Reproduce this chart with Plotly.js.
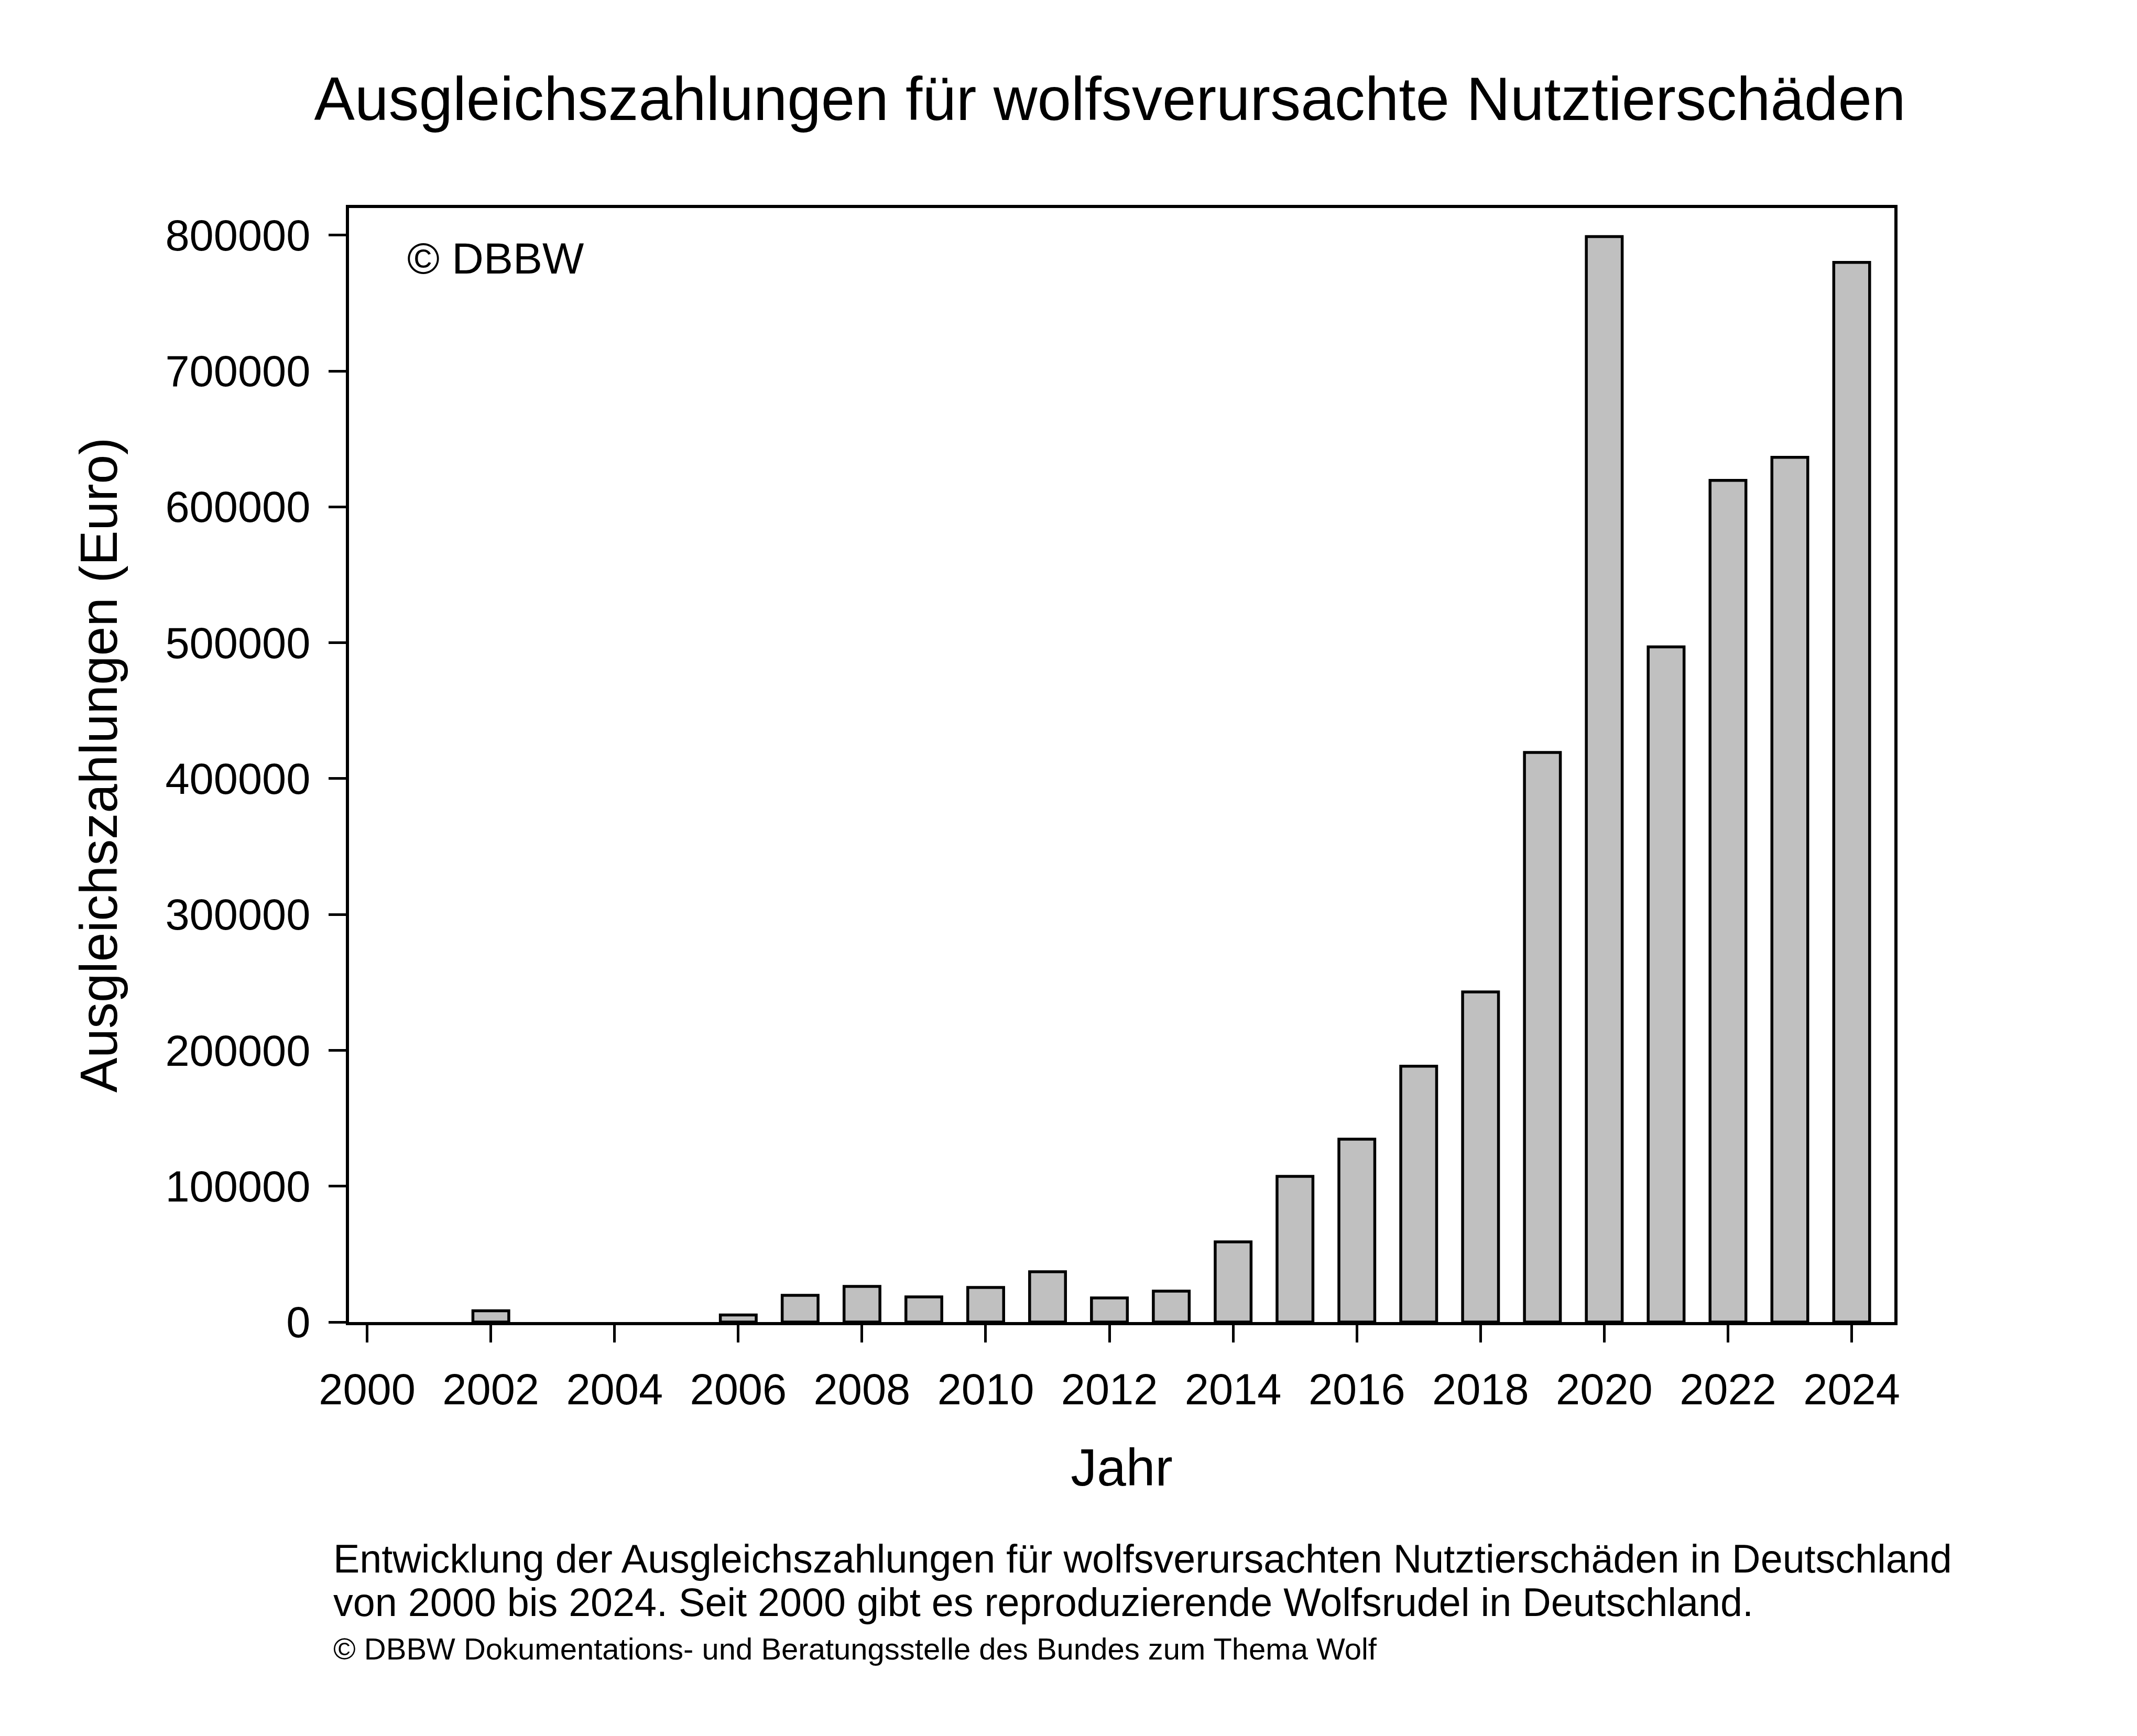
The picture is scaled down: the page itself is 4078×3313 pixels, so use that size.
<!DOCTYPE html>
<html>
<head>
<meta charset="utf-8">
<script src="https://cdn.plot.ly/plotly-3.0.1.min.js"></script>
<style>html,body{margin:0;padding:0;background:#fff;}#chart{width:4078px;height:3313px;}</style>
</head>
<body>
<div id="chart"></div>
<script>
// ---- data ----
const years = [2000, 2001, 2002, 2003, 2004, 2005, 2006, 2007, 2008, 2009, 2010, 2011, 2012,
               2013, 2014, 2015, 2016, 2017, 2018, 2019, 2020, 2021, 2022, 2023, 2024];
const payments = [0, 0, 8300, 0, 0, 0, 5200, 19700, 26200, 18500, 25500, 37000, 17700,
                  22800, 59000, 107200, 134600, 188300, 243000, 419300, 799000, 497000, 619500, 636500, 780000];
const xTickVals = [2000, 2002, 2004, 2006, 2008, 2010, 2012, 2014, 2016, 2018, 2020, 2022, 2024];
const yTickVals = [0, 100000, 200000, 300000, 400000, 500000, 600000, 700000, 800000];

const titleText = 'Ausgleichszahlungen für wolfsverursachte Nutztierschäden';
const xTitle = 'Jahr';
const yTitle = 'Ausgleichszahlungen (Euro)';
const watermark = '© DBBW';
const captionLines = [
  'Entwicklung der Ausgleichszahlungen für wolfsverursachten Nutztierschäden in Deutschland',
  'von 2000 bis 2024. Seit 2000 gibt es reproduzierende Wolfsrudel in Deutschland.',
  '© DBBW Dokumentations- und Beratungsstelle des Bundes zum Thema Wolf'
];

// ---- layout geometry (pixels) ----
const W = 4078, H = 3313;
const L = 666, R = 3615, T = 397, B = 2523;
const FONT = 'Liberation Sans, Arial, Helvetica, sans-serif';
const px2py = y => (B - y) / (B - T);
const px2px = x => (x - L) / (R - L);

const trace = {
  type: 'bar',
  x: years,
  y: payments,
  width: 0.58,
  marker: {
    color: '#c0c0c0',
    line: {color: '#000', width: payments.map(v => (v > 0 ? 5.5 : 0))}
  },
  hoverinfo: 'x+y'
};

const axisCommon = {
  showline: true, mirror: true, linecolor: '#000', linewidth: 6,
  ticks: 'outside', ticklen: 33, tickwidth: 5, tickcolor: '#000',
  showgrid: false, zeroline: false,
  tickfont: {family: FONT, size: 83, color: '#000'},
  automargin: false
};

const layout = {
  width: W, height: H,
  paper_bgcolor: '#fff', plot_bgcolor: '#fff',
  margin: {l: L, r: W - R, t: T, b: H - B, pad: 0},
  showlegend: false,
  font: {family: FONT, color: '#000'},
  title: {
    text: titleText,
    font: {family: FONT, size: 116, color: '#000'},
    x: 2118 / W, xanchor: 'center', xref: 'container',
    y: 1 - 188 / H, yanchor: 'middle', yref: 'container'
  },
  xaxis: Object.assign({}, axisCommon, {
    range: [1999.707, 2024.69],
    tickmode: 'array', tickvals: xTickVals, ticktext: xTickVals.map(String),
    ticklabelstandoff: 18,
    title: {text: xTitle, font: {family: FONT, size: 100, color: '#000'}, standoff: 70}
  }),
  yaxis: Object.assign({}, axisCommon, {
    range: [0, 820000],
    tickmode: 'array', tickvals: yTickVals, ticktext: yTickVals.map(String),
    ticklabelstandoff: 18,
    title: {text: yTitle, font: {family: FONT, size: 100, color: '#000'}, standoff: 60}
  }),
  annotations: [
    {text: watermark, xref: 'paper', yref: 'paper', x: px2px(775), y: px2py(493),
     xanchor: 'left', yanchor: 'middle', showarrow: false,
     font: {family: FONT, size: 84, color: '#000'}},
    {text: captionLines[0], xref: 'paper', yref: 'paper', x: px2px(634), y: px2py(2975),
     xanchor: 'left', yanchor: 'middle', showarrow: false,
     font: {family: FONT, size: 75.5, color: '#000'}},
    {text: captionLines[1], xref: 'paper', yref: 'paper', x: px2px(634), y: px2py(3058),
     xanchor: 'left', yanchor: 'middle', showarrow: false,
     font: {family: FONT, size: 75.5, color: '#000'}},
    {text: captionLines[2], xref: 'paper', yref: 'paper', x: px2px(634), y: px2py(3146),
     xanchor: 'left', yanchor: 'middle', showarrow: false,
     font: {family: FONT, size: 58, color: '#000'}}
  ]
};

Plotly.newPlot('chart', [trace], layout, {displayModeBar: false, staticPlot: true});
</script>
</body>
</html>
